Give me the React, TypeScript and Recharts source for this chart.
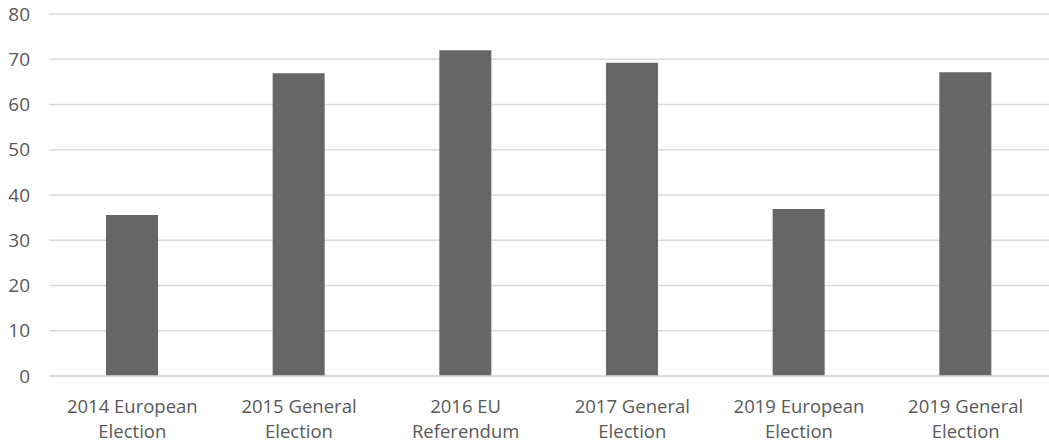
import React from 'react';
import { BarChart, Bar, XAxis, YAxis, CartesianGrid } from 'recharts';

const categories = [
  '2014 European Election',
  '2015 General Election',
  '2016 EU Referendum',
  '2017 General Election',
  '2019 European Election',
  '2019 General Election',
];
const labelLines: string[][] = [
  ['2014 European', 'Election'],
  ['2015 General', 'Election'],
  ['2016 EU', 'Referendum'],
  ['2017 General', 'Election'],
  ['2019 European', 'Election'],
  ['2019 General', 'Election'],
];
const turnout = [35.6, 66.9, 72.0, 69.2, 36.9, 67.1];
const yTicks = [0, 10, 20, 30, 40, 50, 60, 70, 80];

const data = categories.map((c, i) => ({ name: c, value: turnout[i], idx: i }));

const FONT = "'Open Sans', 'Liberation Sans', sans-serif";
const TEXT = '#595959';

const XTick = (props: any) => {
  const { x, y, index } = props;
  const lines = labelLines[index] || [];
  return (
    <g>
      {lines.map((l, i) => (
        <text
          key={i}
          x={x}
          y={y + 29 + i * 25}
          textAnchor="middle"
          fill={TEXT}
          fontFamily={FONT}
          fontSize={18.5}
        >
          {l}
        </text>
      ))}
    </g>
  );
};

export default function App() {
  return (
    <div style={{ position: 'absolute', left: 0, top: 0, background: '#fff' }}>
      <BarChart
        width={1049}
        height={442}
        data={data}
        margin={{ top: 14, right: 0, bottom: 0, left: 0 }}
      >
        <CartesianGrid horizontal vertical={false} stroke="#d9d9d9" strokeWidth={1.5} />
        <XAxis
          dataKey="name"
          axisLine={{ stroke: '#d9d9d9', strokeWidth: 1.5 }}
          tickLine={false}
          height={66}
          interval={0}
          tick={<XTick />}
        />
        <YAxis
          width={49}
          domain={[0, 80]}
          ticks={yTicks}
          axisLine={false}
          tickLine={false}
          tickMargin={13}
          tick={{ fill: TEXT, fontFamily: FONT, fontSize: 19 }}
        />
        <Bar dataKey="value" fill="#666666" barSize={52} isAnimationActive={false} />
      </BarChart>
    </div>
  );
}
